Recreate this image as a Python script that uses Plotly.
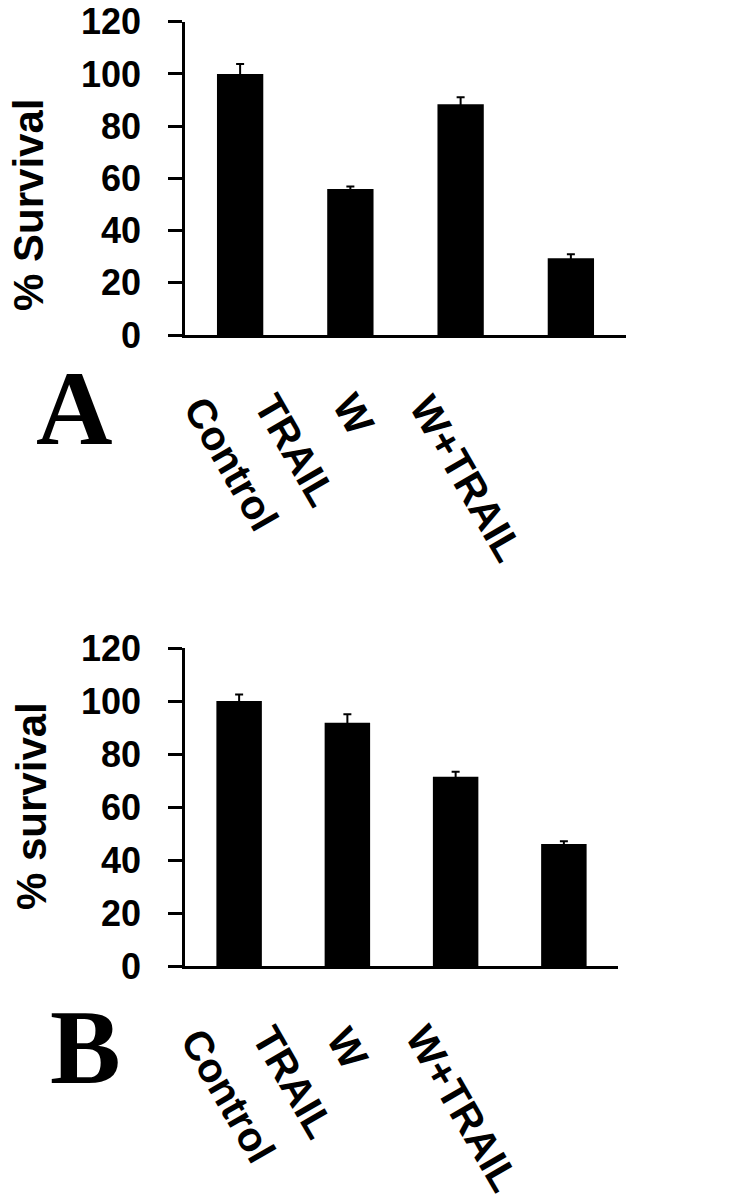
import plotly.graph_objects as go

categories = ["Control", "TRAIL", "W", "W+TRAIL"]
survival_a = [100.0, 55.9, 88.4, 29.4]
error_a = [3.8, 1.0, 2.7, 1.5]
survival_b = [100.0, 91.8, 71.4, 46.0]
error_b = [2.5, 3.2, 1.9, 1.1]
y_ticks = [0, 20, 40, 60, 80, 100, 120]

W, H = 756, 1200
FONT = "Liberation Sans, Arial, sans-serif"
SERIF = "Liberation Serif, Times New Roman, serif"

fig = go.Figure()

fig.add_trace(go.Bar(
    x=categories, y=survival_a, width=0.42,
    marker=dict(color="black", line=dict(width=0)),
    error_y=dict(type="data", array=error_a, symmetric=True, color="black", thickness=2, width=4),
    xaxis="x", yaxis="y", showlegend=False,
))
fig.add_trace(go.Bar(
    x=categories, y=survival_b, width=0.42,
    marker=dict(color="black", line=dict(width=0)),
    error_y=dict(type="data", array=error_b, symmetric=True, color="black", thickness=2, width=4),
    xaxis="x2", yaxis="y2", showlegend=False,
))

def yax(domain, anchor):
    return dict(
        domain=domain, anchor=anchor, range=[0, 120], tickvals=y_ticks,
        showgrid=False, zeroline=False, showline=True, linecolor="black", linewidth=2.5,
        ticks="outside", ticklen=14, tickwidth=2.5, tickcolor="black",
        tickfont=dict(family=FONT, size=36, color="black", weight="bold"),
        ticklabelstandoff=20, automargin=False,
    )

def xax(domain, anchor):
    return dict(
        domain=domain, anchor=anchor, range=[-0.5, 3.5],
        showgrid=False, zeroline=False, showline=True, linecolor="black", linewidth=2.5,
        ticks="", showticklabels=False, automargin=False,
    )

fig.update_layout(
    template="none",
    width=W, height=H, margin=dict(l=0, r=0, t=0, b=0, pad=0, autoexpand=False),
    paper_bgcolor="white", plot_bgcolor="white",
    xaxis=xax([185 / W, 626 / W], "y"),
    yaxis=yax([1 - 335 / H, 1 - 21.7 / H], "x"),
    xaxis2=xax([185 / W, 618 / W], "y2"),
    yaxis2=yax([1 - 966 / H, 1 - 648 / H], "x2"),
    bargap=0.58,
)

annotations = []
# y-axis titles
annotations.append(dict(text="% Survival", x=28 / W, y=1 - 205 / H, xref="paper", yref="paper",
                        textangle=-90, showarrow=False, xanchor="center", yanchor="middle",
                        font=dict(family=FONT, size=42, color="black", weight="bold")))
annotations.append(dict(text="% survival", x=31 / W, y=1 - 806 / H, xref="paper", yref="paper",
                        textangle=-90, showarrow=False, xanchor="center", yanchor="middle",
                        font=dict(family=FONT, size=42, color="black", weight="bold")))
# panel letters
annotations.append(dict(text="A", x=74 / W, y=1 - 408 / H, xref="paper", yref="paper",
                        showarrow=False, xanchor="center", yanchor="middle",
                        font=dict(family=SERIF, size=106, color="black", weight="bold")))
annotations.append(dict(text="B", x=85 / W, y=1 - 1047 / H, xref="paper", yref="paper",
                        showarrow=False, xanchor="center", yanchor="middle",
                        font=dict(family=SERIF, size=106, color="black", weight="bold")))

# rotated category labels (centres in pixels)
label_centres_a = [(231, 464), (295, 450), (353, 414), (466, 478)]
label_centres_b = [(228, 1096), (293, 1082), (347, 1048), (462, 1108)]
for cat, (cx, cy) in zip(categories, label_centres_a):
    annotations.append(dict(text=cat, x=cx / W, y=1 - cy / H, xref="paper", yref="paper",
                            textangle=60, showarrow=False, xanchor="center", yanchor="middle",
                            font=dict(family=FONT, size=41, color="black", weight="bold")))
for cat, (cx, cy) in zip(categories, label_centres_b):
    annotations.append(dict(text=cat, x=cx / W, y=1 - cy / H, xref="paper", yref="paper",
                            textangle=60, showarrow=False, xanchor="center", yanchor="middle",
                            font=dict(family=FONT, size=41, color="black", weight="bold")))

fig.update_layout(annotations=annotations)
fig.write_html("out.html", config={"displayModeBar": False},
               post_script="document.body.style.margin='0';document.body.style.padding='0';")
